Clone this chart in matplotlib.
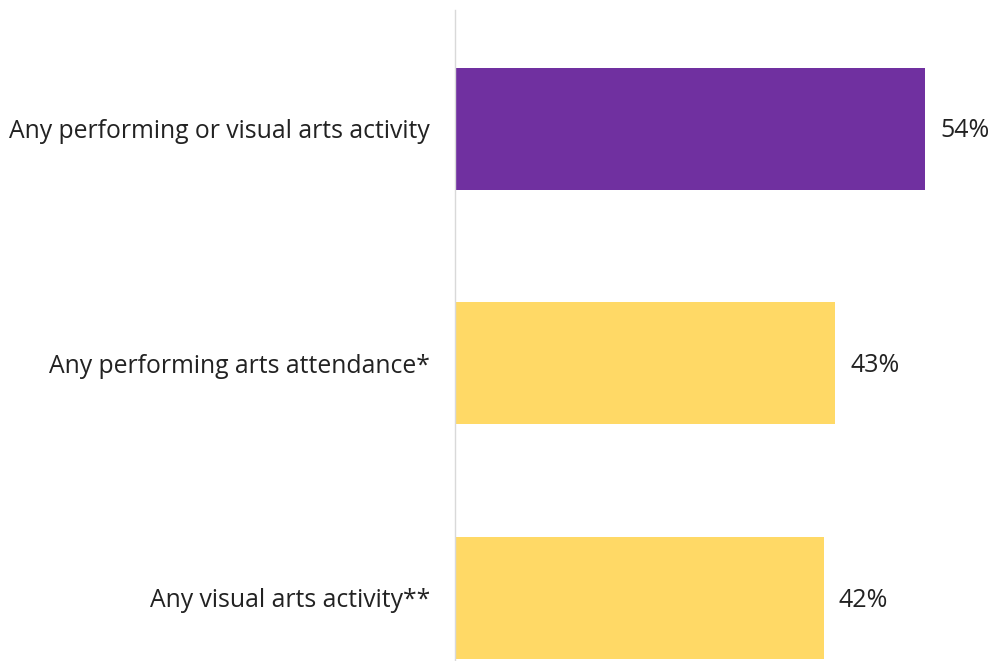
import matplotlib
matplotlib.use("Agg")
import matplotlib.pyplot as plt

categories = ["Any performing or visual arts activity",
              "Any performing arts attendance*",
              "Any visual arts activity**"]
values = [53.4, 43.2, 41.9]
labels = ["54%", "43%", "42%"]
colors = ["#7030A0", "#FFD966", "#FFD966"]

plt.rcParams['font.family'] = ['Open Sans', 'DejaVu Sans']

fig = plt.figure(figsize=(9.94, 6.61), dpi=100)
ax = fig.add_axes([455/994, 0, 528/994, 1 - 10/661])

y = list(range(len(categories)))
ax.barh(y, values, height=0.52, color=colors)
ax.set_ylim(2.269, -0.507)
ax.set_xlim(0, 60)

for yi, v, lab in zip(y, values, labels):
    ax.annotate(lab, (v, yi), xytext=(11, -1.5), textcoords="offset points",
                va="center", ha="left", fontsize=18, color="#222222")

ax.set_yticks(y)
ax.set_yticklabels(categories, fontsize=17.8, color="#222222")
ax.tick_params(axis="y", length=0, pad=18)
ax.set_xticks([])
for s in ["top", "right", "bottom"]:
    ax.spines[s].set_visible(False)
ax.spines["left"].set_color("#D9D9D9")
ax.spines["left"].set_linewidth(1)

fig.savefig("out.png", dpi=100)
